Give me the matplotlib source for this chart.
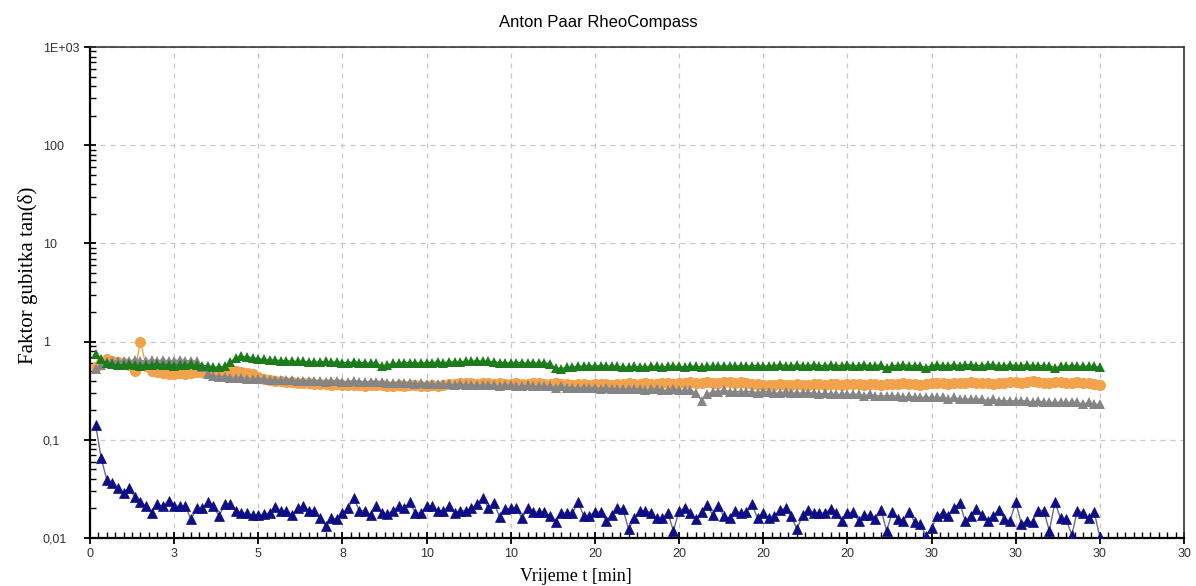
import numpy as np
import matplotlib
matplotlib.use('Agg')
import matplotlib.pyplot as plt
from matplotlib.ticker import FixedLocator, FixedFormatter, LogLocator, MultipleLocator, NullFormatter

# sample interval 10 s -> 180 points over 30 min
n_points = 180
t_min = np.arange(1, n_points + 1) / 6.0

blue = [
    0.142, 0.065, 0.039, 0.036, 0.032, 0.029, 0.032, 0.026, 0.023, 0.021,
    0.018, 0.022, 0.021, 0.024, 0.021, 0.021, 0.021, 0.0155, 0.020, 0.020,
    0.023, 0.021, 0.0167, 0.022, 0.022, 0.019, 0.018, 0.018, 0.017, 0.017,
    0.0175, 0.018, 0.0205, 0.019, 0.019, 0.017, 0.020, 0.021, 0.019, 0.019,
    0.016, 0.0134, 0.016, 0.0155, 0.018, 0.020, 0.0256, 0.019, 0.019, 0.017,
    0.021, 0.018, 0.0177, 0.019, 0.021, 0.020, 0.023, 0.018, 0.018, 0.021,
    0.021, 0.019, 0.019, 0.021, 0.018, 0.019, 0.019, 0.020, 0.022,
    0.0256, 0.0202, 0.0228, 0.0164, 0.0197, 0.020, 0.020, 0.016, 0.020, 0.0184,
    0.0184, 0.0185, 0.0167, 0.0145, 0.018, 0.018, 0.018, 0.0232, 0.0168, 0.0168,
    0.0184, 0.0184, 0.015, 0.017, 0.020, 0.0197, 0.0123, 0.0158, 0.019, 0.019,
    0.018, 0.0158, 0.016, 0.018, 0.0118, 0.019, 0.020, 0.018, 0.0155, 0.0184,
    0.0217, 0.017, 0.021, 0.0167, 0.0158, 0.019, 0.018, 0.0184, 0.022, 0.0158,
    0.018, 0.0158, 0.0167, 0.0194, 0.020, 0.0167, 0.0123, 0.017, 0.0194, 0.018,
    0.018, 0.018, 0.0197, 0.018, 0.015, 0.018, 0.0184, 0.0148, 0.017,
    0.017, 0.0155, 0.0194, 0.0118, 0.0184, 0.0157, 0.015, 0.0184, 0.0145, 0.014,
    0.0105, 0.0126, 0.0167, 0.018, 0.0167, 0.020, 0.0228, 0.015, 0.0167, 0.0197,
    0.017, 0.015, 0.0167, 0.0194, 0.0155, 0.015, 0.0232, 0.014, 0.015, 0.0145,
    0.019, 0.019, 0.0118, 0.0232, 0.0158, 0.0155, 0.0107, 0.019, 0.018, 0.016,
    0.0184, 0.0102,
]

green = [
    0.74, 0.66, 0.60,
    0.59, 0.58, 0.58, 0.59, 0.58, 0.57, 0.58, 0.58, 0.59, 0.58, 0.58, 0.57, 0.58, 0.58, 0.59, 0.58, 0.57, 0.57,
    0.55, 0.55, 0.56,
    0.62, 0.68, 0.71,
    0.70, 0.68, 0.67, 0.66, 0.65, 0.65, 0.64,
    0.64, 0.63, 0.63, 0.63, 0.62, 0.62, 0.62, 0.63, 0.62, 0.62, 0.61, 0.61, 0.62, 0.61, 0.61, 0.60, 0.61,
    0.56, 0.58,
    0.60, 0.60, 0.61, 0.61, 0.61, 0.60, 0.61, 0.61, 0.62, 0.61, 0.62, 0.62, 0.62, 0.63, 0.63, 0.64, 0.63,
    0.63, 0.62, 0.61, 0.61, 0.60, 0.61, 0.61, 0.60, 0.61, 0.60, 0.61, 0.59,
    0.54, 0.53, 0.55, 0.55,
    0.56, 0.56, 0.57, 0.56, 0.57, 0.57, 0.56, 0.56, 0.55, 0.55, 0.56, 0.55, 0.55, 0.56, 0.56, 0.55, 0.56,
    0.56, 0.56, 0.55, 0.56, 0.56, 0.55, 0.56, 0.56, 0.56, 0.57, 0.56, 0.56, 0.57, 0.56, 0.57, 0.57, 0.56,
    0.57, 0.57, 0.58, 0.57, 0.57, 0.58, 0.57, 0.57, 0.58, 0.57, 0.57, 0.58, 0.57, 0.57, 0.58, 0.57, 0.57,
    0.58, 0.57, 0.57, 0.58,
    0.54,
    0.57, 0.57, 0.58, 0.57, 0.57, 0.57,
    0.54,
    0.57, 0.58, 0.57, 0.57, 0.58, 0.57, 0.58, 0.58, 0.57, 0.57, 0.58, 0.58, 0.57, 0.57, 0.58, 0.57, 0.57,
    0.58, 0.57, 0.57, 0.57, 0.57,
    0.54,
    0.56, 0.56, 0.57, 0.56, 0.56, 0.56, 0.56, 0.55,
]

orange = [
    0.55, 0.62, 0.66,
    0.63, 0.62, 0.60, 0.58,
    0.50, 1.0, 0.56,
    0.50, 0.49, 0.48, 0.47, 0.47, 0.48, 0.47, 0.48, 0.49,
    0.49, 0.48, 0.49, 0.49, 0.50, 0.49, 0.50, 0.49, 0.48, 0.47,
    0.44, 0.42, 0.41, 0.40,
    0.40, 0.39, 0.39, 0.38, 0.38, 0.38, 0.37, 0.37, 0.37, 0.36, 0.37, 0.36, 0.36, 0.36, 0.36, 0.35, 0.36, 0.36,
    0.36, 0.35, 0.35, 0.36, 0.35, 0.36, 0.36, 0.35, 0.35, 0.36, 0.35, 0.36, 0.37, 0.37, 0.38,
    0.38, 0.38, 0.37, 0.38, 0.38, 0.37, 0.38, 0.37, 0.37, 0.38, 0.37, 0.37, 0.38, 0.38, 0.37, 0.37,
    0.38, 0.37, 0.37, 0.36, 0.37, 0.37, 0.36, 0.37,
    0.37, 0.37, 0.36, 0.37, 0.37, 0.38, 0.37, 0.37, 0.38, 0.37, 0.37, 0.38, 0.38, 0.37, 0.38,
    0.38, 0.39, 0.38, 0.38, 0.39, 0.38, 0.38, 0.39, 0.39, 0.38, 0.39, 0.38, 0.37, 0.37, 0.36,
    0.36, 0.36, 0.37, 0.36, 0.36, 0.37, 0.36, 0.36, 0.37, 0.37, 0.36, 0.37, 0.37, 0.36, 0.37,
    0.37, 0.37, 0.36, 0.37, 0.37, 0.36, 0.37, 0.37, 0.37, 0.38, 0.37, 0.37, 0.36, 0.37, 0.38,
    0.38, 0.38, 0.37, 0.38, 0.38, 0.38, 0.39, 0.38, 0.38, 0.38, 0.37, 0.38, 0.38, 0.39, 0.39,
    0.38, 0.39, 0.40, 0.39, 0.38, 0.38, 0.39, 0.39, 0.38, 0.38, 0.39, 0.38, 0.38, 0.37, 0.36,
]

gray = [
    0.53, 0.58, 0.62,
    0.63, 0.64, 0.63, 0.64, 0.65, 0.64, 0.64, 0.65, 0.64, 0.65, 0.64, 0.64, 0.65, 0.64, 0.64, 0.63,
    0.55, 0.47,
    0.45, 0.44, 0.44, 0.43, 0.43, 0.43, 0.42, 0.42, 0.42, 0.42, 0.41, 0.41, 0.41, 0.41,
    0.41, 0.40, 0.40, 0.40, 0.40, 0.40, 0.39, 0.40, 0.40, 0.39, 0.39, 0.40, 0.39, 0.39, 0.39, 0.39,
    0.39, 0.38, 0.38, 0.38, 0.38, 0.38, 0.37, 0.38, 0.37, 0.37, 0.37, 0.37, 0.37, 0.36, 0.37, 0.36,
    0.36, 0.36, 0.36, 0.36, 0.36, 0.35, 0.36, 0.36,
    0.35, 0.35, 0.36, 0.35, 0.35, 0.35, 0.35, 0.34, 0.35, 0.34, 0.34, 0.34, 0.34, 0.34, 0.34,
    0.33, 0.34, 0.33, 0.33, 0.33, 0.33, 0.33, 0.33, 0.32, 0.33, 0.33, 0.32, 0.32, 0.33, 0.32,
    0.32, 0.32, 0.30, 0.25, 0.29,
    0.31, 0.31, 0.32, 0.31, 0.31, 0.31, 0.31, 0.31, 0.30, 0.31,
    0.31, 0.30, 0.30, 0.31, 0.30, 0.30, 0.30, 0.30, 0.30, 0.29,
    0.30, 0.29, 0.29, 0.29, 0.29, 0.29, 0.29, 0.28, 0.29, 0.28,
    0.28, 0.28, 0.28, 0.28, 0.27, 0.28, 0.27, 0.27, 0.27, 0.27,
    0.27, 0.27, 0.26, 0.27, 0.26, 0.26, 0.26, 0.26, 0.26, 0.25, 0.26, 0.25, 0.25, 0.25, 0.25,
    0.25, 0.25, 0.24, 0.25, 0.24, 0.24, 0.24, 0.24, 0.24, 0.24, 0.24, 0.23, 0.24, 0.23, 0.23,
]

x_ticks = [0, 2.5, 5, 7.5, 10, 12.5, 15, 17.5, 20, 22.5, 25, 27.5, 30, 32.5]
x_tick_labels = ['0', '3', '5', '8', '10', '10', '20', '20', '20', '20', '30', '30', '30', '30']
y_ticks = [0.01, 0.1, 1, 10, 100, 1000]
y_tick_labels = ['0,01', '0,1', '1', '10', '100', '1E+03']

fig = plt.figure(figsize=(11.96, 5.86), dpi=100)
ax = fig.add_axes([90 / 1196, 1 - 538 / 586, 1094 / 1196, 491 / 586])

ax.plot(t_min, orange, color='#f3a24c', marker='o', markersize=8, lw=1,
        markeredgewidth=0, zorder=3)
ax.plot(t_min, gray, color='#858585', marker='^', markersize=7, lw=1,
        markeredgewidth=0, zorder=4)
ax.plot(t_min, green, color='#1c7c1c', marker='^', markersize=7, lw=1,
        markeredgewidth=0, zorder=5)
ax.plot(t_min, blue, color='#6b6b8e', marker='^', markersize=6.5, lw=1,
        markerfacecolor='#0d0d85', markeredgecolor='#0d0d85', markeredgewidth=0.5,
        zorder=6)

ax.set_yscale('log')
ax.set_ylim(0.01, 1000)
ax.set_xlim(0, 32.5)

ax.xaxis.set_major_locator(FixedLocator(x_ticks))
ax.xaxis.set_major_formatter(FixedFormatter(x_tick_labels))
ax.xaxis.set_minor_locator(MultipleLocator(0.25))
ax.yaxis.set_major_locator(FixedLocator(y_ticks))
ax.yaxis.set_major_formatter(FixedFormatter(y_tick_labels))
ax.yaxis.set_minor_locator(LogLocator(base=10, subs=np.arange(2, 10)))
ax.yaxis.set_minor_formatter(NullFormatter())

ax.tick_params(which='major', direction='inout', length=8, width=1.3,
               labelsize=9, colors='black')
ax.tick_params(axis='x', which='major', pad=3)
ax.tick_params(axis='y', which='major', pad=30)
ax.tick_params(which='minor', direction='in', length=4, width=1.0)
for lab in ax.get_xticklabels() + ax.get_yticklabels():
    lab.set_family(['Liberation Sans', 'DejaVu Sans'])
    lab.set_color('#333333')
for lab in ax.get_yticklabels():
    lab.set_horizontalalignment('left')

ax.grid(True, which='major', color='#c8c8c8', linestyle=(0, (4, 4)), lw=0.9)

for side in ['left', 'bottom']:
    ax.spines[side].set_linewidth(1.6)
    ax.spines[side].set_color('black')
for side in ['top', 'right']:
    ax.spines[side].set_linewidth(1.2)
    ax.spines[side].set_color('#333333')

ax.set_xlabel('Vrijeme t [min]', family='Liberation Serif', fontsize=13)
ax.xaxis.set_label_coords(0.444, -0.062)
ax.set_ylabel('Faktor gubitka tan(δ)', family=['Liberation Serif', 'DejaVu Serif'], fontsize=15)
ax.yaxis.set_label_coords(-0.0475, 0.534)

fig.text(0.5, 1 - 23 / 586, 'Anton Paar RheoCompass', ha='center', va='center',
         family='Liberation Sans', fontsize=12)

fig.savefig('out.png', dpi=100)
